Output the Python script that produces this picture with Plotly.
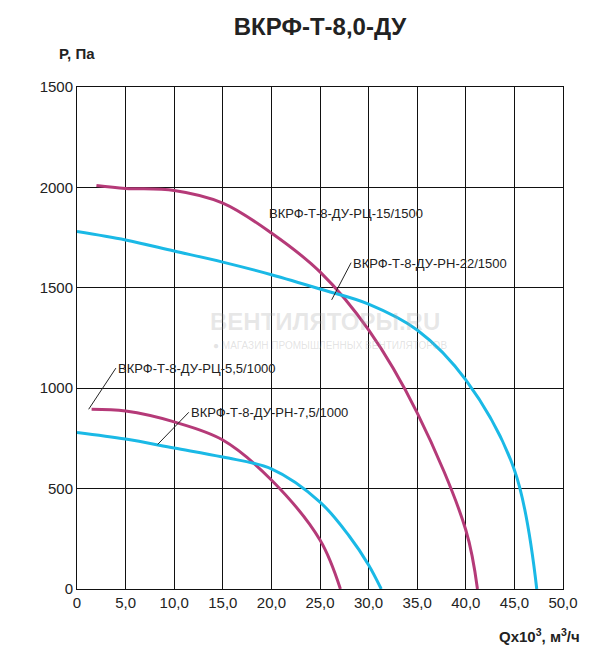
import plotly.graph_objects as go

x_rc15 = [2, 5, 10, 15, 20, 25, 30, 35, 40, 41.2]
y_rc15 = [2010, 1995, 1985, 1922, 1773, 1579, 1290, 877, 294, 0]
x_rn22 = [0, 5, 10, 15, 20, 25, 30, 35, 40, 45, 47.3]
y_rn22 = [1780, 1738, 1683, 1628, 1565, 1494, 1419, 1290, 1041, 593, 0]
x_rc55 = [1.5, 5, 10, 15, 20, 25, 27.1]
y_rc55 = [895, 886, 832, 742, 543, 244, 0]
x_rn75 = [0, 5, 10, 15, 20, 25, 28, 30, 31.3]
y_rn75 = [780, 747, 702, 657, 598, 433, 264, 120, 0]

xticks = [0, 5, 10, 15, 20, 25, 30, 35, 40, 45, 50]
xlabels = ["0", "5,0", "10,0", "15,0", "20,0", "25,0", "30,0", "35,0", "40,0", "45,0", "50,0"]
yticks = [0, 500, 1000, 1500, 2000, 2500]
ylabels = ["0", "500", "1000", "1500", "2000", "1500"]

MAG = "#b53a78"
CYA = "#1ab9e6"

fig = go.Figure()
for xs, ys, c in [(x_rc15, y_rc15, MAG), (x_rn22, y_rn22, CYA), (x_rc55, y_rc55, MAG), (x_rn75, y_rn75, CYA)]:
    fig.add_trace(go.Scatter(x=xs, y=ys, mode="lines", line=dict(color=c, width=3, shape="spline", smoothing=1.0), showlegend=False))

labels = [
    ("ВКРФ-Т-8-ДУ-РЦ-15/1500", 19.5, 1870, 19.5, 1870, 19.5, 1870),
    ("ВКРФ-Т-8-ДУ-РН-22/1500", 28.2, 1620, 28.2, 1625, 26.2, 1440),
    ("ВКРФ-Т-8-ДУ-РЦ-5,5/1000", 4, 1100, 4, 1100, 1.2, 895),
    ("ВКРФ-Т-8-ДУ-РН-7,5/1000", 11.5, 880, 11.5, 880, 8.3, 720),
]
for t, tx, ty, lx0, ly0, lx1, ly1 in labels:
    fig.add_annotation(x=tx, y=ty, text=t, showarrow=False, xanchor="left", yanchor="middle",
                       font=dict(size=13, color="#222", family="Arial"))
    if (lx0, ly0) != (lx1, ly1):
        fig.add_shape(type="line", x0=lx0, y0=ly0, x1=lx1, y1=ly1, line=dict(color="#222", width=1))

fig.add_annotation(x=25.5, y=1330, text="<b>ВЕНТИЛЯТОРЫ.RU</b>", showarrow=False,
                   font=dict(size=24, color="rgba(160,160,160,0.25)", family="Arial"))
fig.add_annotation(x=26, y=1215, text="● МАГАЗИН ПРОМЫШЛЕННЫХ ВЕНТИЛЯТОРОВ", showarrow=False,
                   font=dict(size=10, color="rgba(160,160,160,0.3)", family="Arial"))

fig.update_layout(
    width=600, height=663, plot_bgcolor="white", paper_bgcolor="white",
    margin=dict(l=69, r=45, t=79, b=82),
    title=dict(text="<b>ВКРФ-Т-8,0-ДУ</b>", x=0.52, y=0.985, yanchor="top", xanchor="center",
               font=dict(size=24, color="#222", family="Arial")),
    font=dict(family="Arial", size=15, color="#222"),
)
fig.update_xaxes(range=[0, 50], tickvals=xticks, ticktext=xlabels, showgrid=True, gridcolor="#111",
                 gridwidth=1, showline=True, linecolor="#111", mirror=True, zeroline=False, ticks="")
fig.update_yaxes(range=[0, 2500], tickvals=yticks, ticktext=ylabels, showgrid=True, gridcolor="#111",
                 gridwidth=1, showline=True, linecolor="#111", mirror=True, zeroline=False, ticks="")
fig.add_annotation(xref="paper", yref="paper", x=-0.0, y=1.045, text="<b>P, Па</b>", showarrow=False,
                   xanchor="center", yanchor="bottom", font=dict(size=15))
fig.add_annotation(xref="paper", yref="paper", x=1.04, y=-0.07, text="<b>Qx10<sup>3</sup>, м<sup>3</sup>/ч</b>",
                   showarrow=False, xanchor="right", yanchor="top", font=dict(size=15))
fig.write_html("out.html")
